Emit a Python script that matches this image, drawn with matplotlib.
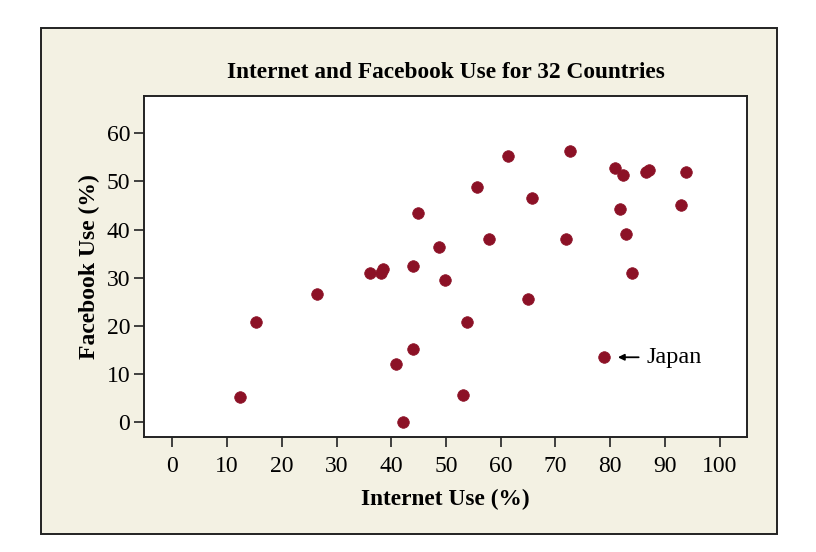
import numpy as np
import matplotlib.pyplot as plt
from matplotlib.patches import Rectangle

# Internet use (%) and Facebook use (%) for 32 countries
internet = [12.4, 15.2, 26.5, 36.1, 38.1, 38.4, 43.9, 44.9, 48.8, 49.8,
            53.9, 43.9, 40.8, 53.1, 42.2, 55.6, 61.3, 72.6, 80.9, 82.3,
            86.6, 87.0, 93.9, 65.7, 81.8, 92.9, 57.9, 71.9, 82.9, 83.9,
            64.9, 78.9]
facebook = [5.1, 20.7, 26.5, 30.9, 31.0, 31.8, 32.5, 43.4, 36.3, 29.4,
            20.7, 15.1, 12.1, 5.6, 0.0, 48.8, 55.4, 56.4, 52.8, 51.4,
            52.0, 52.3, 52.0, 46.5, 44.2, 45.1, 38.1, 38.1, 39.0, 30.9,
            25.6, 13.4]
japan = (78.9, 13.4)

xticks = list(range(0, 101, 10))
yticks = list(range(0, 61, 10))

plt.rcParams['font.family'] = ['Liberation Serif', 'DejaVu Serif']

W, H = 816, 552
fig = plt.figure(figsize=(W / 100, H / 100), dpi=100)
fig.patch.set_facecolor('white')

# cream panel with dark border
fig.patches.append(Rectangle((40.5 / W, 1 - 534 / H), (777 - 40.5) / W, (534 - 27.5) / H,
                             transform=fig.transFigure, facecolor='#F3F1E3',
                             edgecolor='#222222', linewidth=1.4, zorder=-5))

left, right, top, bottom = 144, 747, 96, 437
ax = fig.add_axes([left / W, 1 - bottom / H, (right - left) / W, (bottom - top) / H])
ax.set_zorder(2)
ax.set_facecolor('white')

ax.scatter(internet, facebook, s=70, color='#8C1126', edgecolors='#8C1126',
           linewidths=0.5, zorder=3)

ax.annotate('', xy=(japan[0] + 2.5, japan[1]), xytext=(japan[0] + 6.3, japan[1]),
            arrowprops=dict(arrowstyle='-|>', color='black', lw=1.3,
                            mutation_scale=9, shrinkA=0, shrinkB=0))
ax.text(japan[0] + 7.7, japan[1], 'Japan', fontsize=17.5, va='center', ha='left')

ax.set_xlim(-5.2, 105)
ax.set_ylim(-3.2, 67.8)
ax.set_xticks(xticks)
ax.set_yticks(yticks)
ax.tick_params(direction='out', length=7, width=1.2, labelsize=17,
               colors='#222222', labelcolor='black')
ax.tick_params(axis='x', pad=7)
ax.tick_params(axis='y', pad=3)
for s in ax.spines.values():
    s.set_linewidth(1.4)
    s.set_color('#222222')

ax.set_xlabel('Internet Use (%)', fontsize=16.8, fontweight='bold', labelpad=8)
ax.set_ylabel('Facebook Use (%)', fontsize=17, fontweight='bold', labelpad=5)
ax.set_title('Internet and Facebook Use for 32 Countries', fontsize=16.8,
             fontweight='bold', pad=13)

fig.savefig('out.png', dpi=100, facecolor=fig.get_facecolor())
